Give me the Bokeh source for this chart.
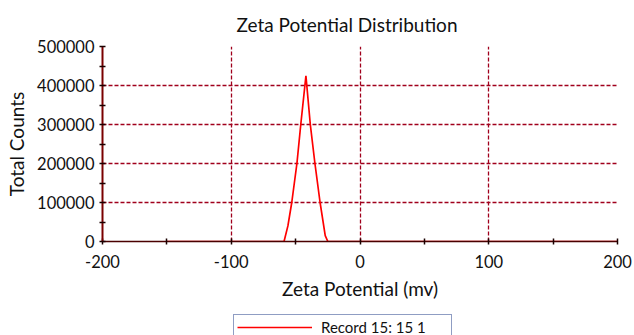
from bokeh.plotting import figure
from bokeh.layouts import column
from bokeh.models import Range1d, FixedTicker, Legend, LegendItem
from bokeh.embed import file_html
from bokeh.resources import INLINE

# Data
zeta_mv = [-150, -100, -60, -59, -56, -53, -49, -46, -42, -38.6, -35, -31, -27, -25, 0, 50, 100, 150, 200]
total_counts = [0, 0, 0, 0, 40000, 100000, 200000, 300000, 425000, 300000, 200000, 100000, 15000, 0, 0, 0, 0, 0, 0]
x_major = [-200, -100, 0, 100, 200]
x_minor = [-150, -50, 50, 150]
y_major = [0, 100000, 200000, 300000, 400000, 500000]
y_minor = [50000, 150000, 250000, 350000, 450000]
y_labels = {v: str(v) for v in y_major}
x_labels = {v: str(v) for v in x_major}
series_name = "Record 15: 15 1"

FONT = "Lato"
LINE_STYLE = dict(line_color="#ff0000", line_width=1.7)

p = figure(width=634, height=313, output_backend="svg", toolbar_location=None,
           x_range=Range1d(-200, 200), y_range=Range1d(0, 500000),
           min_border_left=102, min_border_right=17, min_border_top=44, min_border_bottom=72)
p.outline_line_color = None
p.background_fill_color = "white"

p.title.text = "Zeta Potential Distribution"
p.title.align = "left"
p.title.offset = 134
p.title.standoff = 21
p.title.text_font = FONT
p.title.text_font_size = "19px"
p.title.text_font_style = "normal"
p.title.text_color = "#111111"

p.line(zeta_mv, total_counts, **LINE_STYLE)

p.xaxis.ticker = FixedTicker(ticks=x_major, minor_ticks=x_minor)
p.yaxis.ticker = FixedTicker(ticks=y_major, minor_ticks=y_minor)
p.xaxis.major_label_overrides = x_labels
p.yaxis.major_label_overrides = y_labels

for ax in (p.xaxis[0], p.yaxis[0]):
    ax.axis_line_color = "#4a0000"
    ax.axis_line_width = 1.5
    ax.major_tick_line_color = "#1a0000"
    ax.minor_tick_line_color = "#1a0000"
    ax.major_tick_line_width = 1.5
    ax.minor_tick_line_width = 1.5
    ax.major_tick_in = 3
    ax.major_tick_out = 3
    ax.minor_tick_in = 3
    ax.minor_tick_out = 3
    ax.major_label_text_font = FONT
    ax.major_label_text_font_size = "16.5px"
    ax.major_label_text_color = "#111111"
    ax.axis_label_text_font = FONT
    ax.axis_label_text_font_size = "19px"
    ax.axis_label_text_font_style = "normal"
    ax.axis_label_text_color = "#111111"

p.yaxis[0].axis_line_color = "#7a0000"
p.yaxis[0].axis_line_width = 2

p.xaxis.axis_label = "Zeta Potential (mv)"
p.yaxis.axis_label = "Total Counts"
p.xaxis.major_label_standoff = 10
p.yaxis.major_label_standoff = 5
p.xaxis.axis_label_standoff = 6
p.yaxis.axis_label_standoff = 6

for g in (p.xgrid[0], p.ygrid[0]):
    g.grid_line_color = "#a0001c"
    g.grid_line_dash = "4 2"
    g.grid_line_width = 1.3

# Legend strip below the chart
lf = figure(width=634, height=22, output_backend="svg", toolbar_location=None,
            x_axis_location=None, y_axis_location=None,
            min_border_left=0, min_border_right=0, min_border_top=0, min_border_bottom=0)
lf.outline_line_color = None
lf.xgrid.visible = False
lf.ygrid.visible = False
lr = lf.line(zeta_mv, total_counts, **LINE_STYLE)
lr.visible = False

legend = Legend(items=[LegendItem(label=series_name, renderers=[lr])],
                location=(131, -5),
                border_line_color="#1f3c88", border_line_width=1.5,
                padding=3, margin=0, spacing=0, glyph_width=75, glyph_height=14,
                label_standoff=9, label_width=127, label_text_font=FONT,
                label_text_font_size="15px", label_text_color="#111111",
                background_fill_color="white", background_fill_alpha=1)
lf.add_layout(legend, "center")

layout = column(p, lf, spacing=0)
open("out.html", "w").write(file_html(layout, INLINE))
